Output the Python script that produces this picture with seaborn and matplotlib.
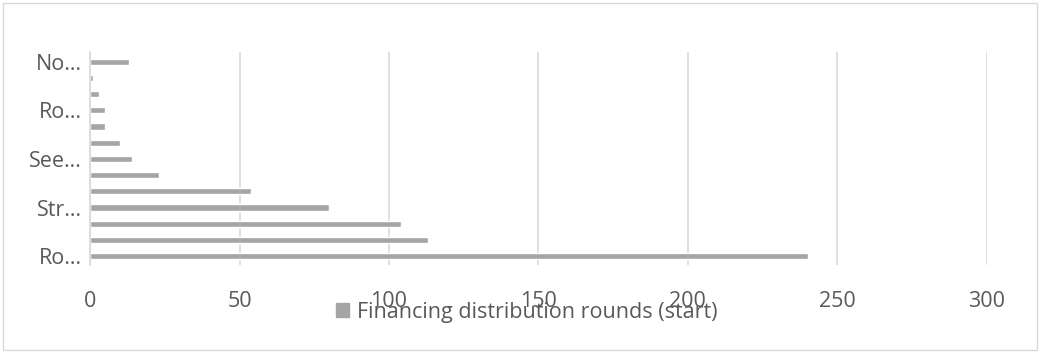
import matplotlib
matplotlib.use("Agg")
import matplotlib.pyplot as plt
import matplotlib.patches as mpatches
import seaborn as sns
import pandas as pd

# data, bottom bar first
categories = ["Ro1", "c2", "c3", "Str", "c5", "c6", "See", "c8", "c9", "Ro2", "c11", "c12", "No"]
values = [240, 113, 104, 80, 54, 23, 14, 10, 5, 5, 3, 1, 13]
tick_labels = ["Ro…", "", "", "Str…", "", "", "See…", "", "", "Ro…", "", "", "No…"]
x_ticks = [0, 50, 100, 150, 200, 250, 300]
series_name = "Financing distribution rounds (start)"

df = pd.DataFrame({"cat": categories, "val": values})

sns.set_style("white")
plt.rcParams["font.family"] = ["Open Sans", "DejaVu Sans"]

text_col = "#595959"
bar_col = "#a5a5a5"
grid_col = "#d9d9d9"

fig = plt.figure(figsize=(10.41, 3.53), dpi=100)
ax = fig.add_axes([0.0865, 0.249, 0.8615, 0.604])

sns.barplot(data=df, x="val", y="cat", order=categories, orient="h",
            color=bar_col, width=0.38, saturation=1, ax=ax)

ax.set_ylim(-0.55, 12.6)
ax.set_xlim(0, 300)
ax.set_xticks(x_ticks)
ax.set_xticklabels([str(t) for t in x_ticks], fontsize=15.5, color=text_col)
ax.set_yticks(range(len(categories)))
ax.set_yticklabels(tick_labels, fontsize=15.5, color=text_col)
ax.tick_params(axis="both", length=0)
ax.tick_params(axis="x", pad=19)
ax.tick_params(axis="y", pad=6)
ax.set_xlabel("")
ax.set_ylabel("")

ax.grid(axis="x", color=grid_col, linewidth=1.2)
ax.set_axisbelow(True)
for s in ["top", "right", "bottom"]:
    ax.spines[s].set_visible(False)
ax.spines["left"].set_color(grid_col)
ax.spines["left"].set_linewidth(1.2)

handle = mpatches.Patch(color=bar_col, label=series_name)
fig.legend(handles=[handle], loc="center", bbox_to_anchor=(0.506, 0.115),
           frameon=False, fontsize=15.5, labelcolor=text_col,
           handlelength=0.6, handleheight=0.6, handletextpad=0.4)

border = mpatches.Rectangle((0.003, 0.008), 0.993, 0.984, transform=fig.transFigure,
                            fill=False, edgecolor=grid_col, linewidth=1)
fig.patches.append(border)

fig.savefig("out.png", dpi=100)
